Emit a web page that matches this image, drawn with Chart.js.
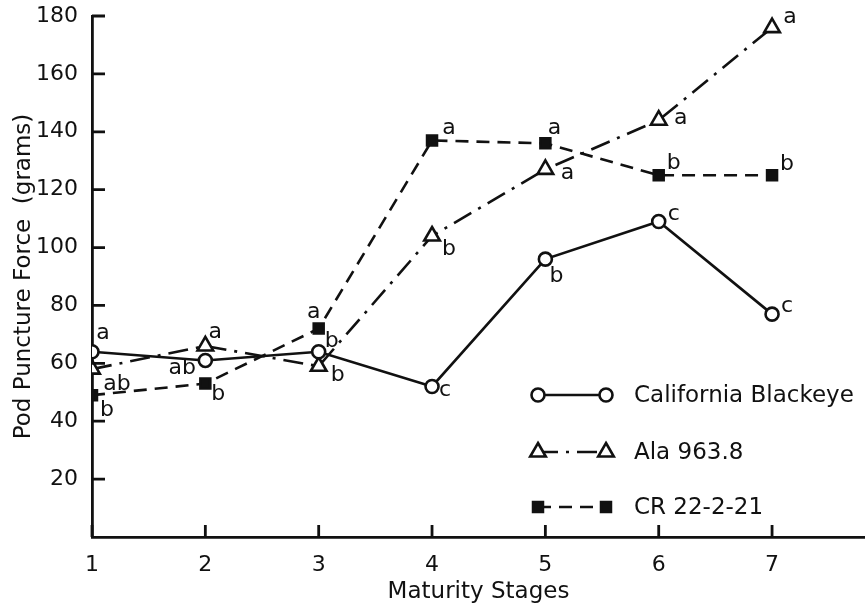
<!DOCTYPE html>
<html>
<head>
<meta charset="utf-8">
<script src="https://cdn.jsdelivr.net/npm/chart.js@4/dist/chart.umd.min.js"></script>
<style>
  html, body { margin: 0; padding: 0; background: #fff; overflow: hidden; }
  #wrap { width: 865px; height: 606px; }
  canvas { display: block; }
</style>
</head>
<body>
<div id="wrap"><canvas id="chart"></canvas></div>
<script>
const stages = [1, 2, 3, 4, 5, 6, 7];
const yTicks = [20, 40, 60, 80, 100, 120, 140, 160, 180];

const blackeye = [64, 61, 64, 52, 96, 109, 77];
const ala = [58, 66, 59, 104, 127, 144, 176];
const cr = [49, 53, 72, 137, 136, 125, 125];

// mean separation letters
const blackeyeLetters = ['a', 'ab', 'b', 'c', 'b', 'c', 'c'];
const alaLetters = ['ab', 'a', 'b', 'b', 'a', 'a', 'a'];
const crLetters = ['b', 'b', 'a', 'a', 'a', 'b', 'b'];

const ink = '#111';
const FONT = 'DejaVu Sans';

// where each letter sits relative to its point, in px
const letterOffsets = [
    [[11, -18], [-23, 8], [13, -10], [13, 4], [11, 17], [15, -7], [15, -8]],
    [[25, 15], [10, -14], [19, 9], [17, 13], [22, 4], [22, -2], [18, -10]],
    [[15, 15], [13, 11], [-5, -16], [17, -12], [9, -15], [15, -12], [15, -11]]
];

const toPoints = (vals) => stages.map((s, i) => ({x: s, y: vals[i]}));

const base = {
    borderColor: ink,
    pointBorderColor: ink,
    borderWidth: 2.6,
    pointBorderWidth: 2.6,
    tension: 0,
    fill: false
};

const datasets = [
    {...base, label: 'California Blackeye', data: toPoints(blackeye),
        pointStyle: 'circle', pointRadius: 6.5, pointBackgroundColor: '#fff'},
    {...base, label: 'Ala 963.8', data: toPoints(ala), borderDash: [20, 8, 3, 8],
        pointStyle: 'triangle', pointRadius: 9, pointBackgroundColor: '#fff'},
    {...base, label: 'CR 22-2-21', data: toPoints(cr), borderDash: [13, 8],
        pointStyle: 'rect', pointRadius: 7, pointBackgroundColor: ink}
];
const allLetters = [blackeyeLetters, alaLetters, crLetters];

// ticks pointing into the plot, letters, legend
const decor = {
    id: 'decor',
    afterDatasetsDraw(chart) {
        const ctx = chart.ctx;
        const xs = chart.scales.x, ys = chart.scales.y;
        ctx.save();
        ctx.strokeStyle = ink;
        ctx.lineWidth = 2.8;
        ctx.beginPath();
        yTicks.forEach(v => {
            const y = ys.getPixelForValue(v);
            ctx.moveTo(xs.left, y);
            ctx.lineTo(xs.left + 13, y);
        });
        stages.forEach(s => {
            const x = xs.getPixelForValue(s);
            ctx.moveTo(x, ys.bottom);
            ctx.lineTo(x, ys.bottom - 12);
        });
        ctx.stroke();

        ctx.fillStyle = ink;
        ctx.font = '22px "' + FONT + '"';
        ctx.textAlign = 'center';
        ctx.textBaseline = 'middle';
        datasets.forEach((ds, d) => {
            ds.data.forEach((p, i) => {
                const off = letterOffsets[d][i];
                ctx.fillText(allLetters[d][i], xs.getPixelForValue(p.x) + off[0],
                    ys.getPixelForValue(p.y) + off[1]);
            });
        });

        // legend
        const rows = [395, 452, 507];
        ctx.font = '23px "' + FONT + '"';
        ctx.textAlign = 'left';
        datasets.forEach((ds, d) => {
            const y = rows[d];
            const x0 = 538, x1 = 606;
            ctx.strokeStyle = ink;
            ctx.setLineDash(ds.borderDash || []);
            ctx.lineWidth = ds.borderWidth;
            ctx.beginPath();
            ctx.moveTo(x0, y);
            ctx.lineTo(x1, y);
            ctx.stroke();
            ctx.setLineDash([]);
            [x0, x1].forEach(x => {
                ctx.fillStyle = ds.pointBackgroundColor;
                ctx.strokeStyle = ink;
                ctx.lineWidth = ds.pointBorderWidth;
                Chart.helpers.drawPoint(ctx, {
                    pointStyle: ds.pointStyle,
                    radius: ds.pointRadius,
                    borderWidth: ds.pointBorderWidth,
                    rotation: 0
                }, x, y);
            });
            ctx.fillStyle = ink;
            ctx.fillText(ds.label, 634, y + 1);
        });
        ctx.restore();
    }
};

new Chart(document.getElementById('chart'), {
    type: 'line',
    data: {datasets: datasets},
    options: {
        responsive: true,
        maintainAspectRatio: false,
        animation: false,
        layout: {autoPadding: false, padding: {top: 16, right: 0, bottom: 0, left: 0}},
        plugins: {legend: {display: false}, tooltip: {enabled: false}},
        scales: {
            x: {
                type: 'linear',
                min: 1,
                max: 7.82,
                afterFit: s => { s.height = 69; s.paddingLeft = 0; s.paddingRight = 0; },
                afterBuildTicks: s => { s.ticks = stages.map(v => ({value: v})); },
                grid: {display: false},
                border: {color: ink, width: 2.8},
                ticks: {color: ink, font: {family: FONT, size: 22}, padding: 7, maxRotation: 0},
                title: {display: true, text: 'Maturity Stages', color: ink,
                    font: {family: FONT, size: 23}, padding: {top: 0, bottom: 0}}
            },
            y: {
                min: 0,
                max: 180,
                afterFit: s => { s.width = 92; s.paddingTop = 0; s.paddingBottom = 0; },
                afterBuildTicks: s => { s.ticks = yTicks.map(v => ({value: v})); },
                grid: {display: false},
                border: {color: ink, width: 2.8},
                ticks: {color: ink, font: {family: FONT, size: 22}, padding: 6},
                title: {display: true, text: 'Pod Puncture Force  (grams)', color: ink,
                    font: {family: FONT, size: 23}, padding: {top: 10, bottom: 0}}
            }
        }
    },
    plugins: [decor]
});
</script>
</body>
</html>
